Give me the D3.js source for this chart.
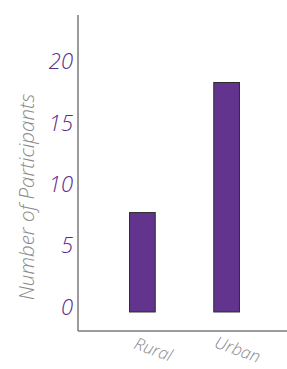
<!DOCTYPE html>
<html>
<head>
<meta charset="utf-8">
<script src="https://cdn.jsdelivr.net/npm/d3@7"></script>
<style>
	body { margin: 0; background: #fff; }
	svg { display: block; }
	text { font-family: "Open Sans", sans-serif; font-style: italic; }
</style>
</head>
<body>
<svg width="287" height="369"></svg>
<script>
	// data
	let categories = ["Rural", "Urban"];
	let counts = [8.1, 18.7];
	let yTicks = [0, 5, 10, 15, 20];

	let svg = d3.select("svg"),
		axisX = 78,
		axisY = 331;

	let x = d3.scaleBand()
		.domain(categories)
		.range([71, 298])
		.paddingInner(0.695)
		.paddingOuter(0.695);

	let y = d3.scaleLinear()
		.domain([-1.55, 24.2])
		.range([axisY, 15]);

	// axes lines
	svg.append("line")
		.attr("x1", axisX).attr("x2", axisX)
		.attr("y1", y.range()[1]).attr("y2", axisY)
		.attr("stroke", "#7a7a7a").attr("stroke-width", 1.5);
	svg.append("line")
		.attr("x1", axisX).attr("x2", 287)
		.attr("y1", axisY).attr("y2", axisY)
		.attr("stroke", "#7a7a7a").attr("stroke-width", 1.5);

	// y tick labels
	let yAxis = svg.append("g")
		.attr("transform", `translate(${axisX},0)`)
		.call(d3.axisLeft(y).tickValues(yTicks).tickSize(0).tickPadding(5));
	yAxis.select(".domain").remove();
	yAxis.selectAll("text")
		.attr("dy", "0.1em")
		.attr("font-size", 22)
		.attr("font-weight", 300)
		.attr("fill", "#5a2b8f")
		.style("font-family", null);

	// bars
	svg.append("g").selectAll("rect")
		.data(counts)
		.enter().append("rect")
			.attr("x", (d, i) => x(categories[i]))
			.attr("y", d => y(d))
			.attr("width", x.bandwidth())
			.attr("height", d => y(0) - y(d))
			.attr("fill", "#63348d")
			.attr("stroke", "#2b2b2b")
			.attr("stroke-width", 1);

	// x labels (kept just inside the bottom edge)
	svg.append("g").selectAll("text")
		.data(categories)
		.enter().append("text")
			.attr("transform", d => `translate(${x(d) + x.bandwidth() / 2 + 9},${axisY + 24}) rotate(20)`)
			.attr("text-anchor", "middle")
			.attr("font-size", 17)
			.attr("font-weight", 300)
			.attr("fill", "#8a8a8a")
			.text(d => d);

	// y title
	svg.append("text")
		.attr("transform", `translate(34,197) rotate(-90)`)
		.attr("text-anchor", "middle")
		.attr("font-size", 20.5)
		.attr("font-weight", 300)
		.attr("fill", "#8a8a8a")
		.text("Number of Participants");
</script>
</body>
</html>
